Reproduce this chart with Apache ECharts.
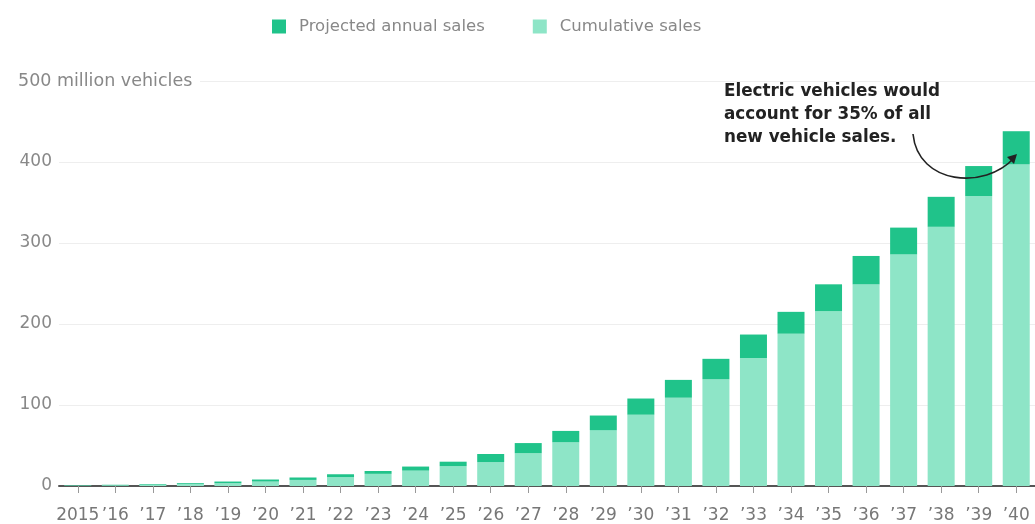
<!DOCTYPE html>
<html>
<head>
<meta charset="utf-8">
<script src="https://cdn.jsdelivr.net/npm/echarts@6/dist/echarts.min.js"></script>
<style>
html,body{margin:0;padding:0;background:#fff;}
#chart{width:1035px;height:524px;}
</style>
</head>
<body>
<div id="chart"></div>
<script>
// Categories (years)
const years = ['2015','\u201916','\u201917','\u201918','\u201919','\u201920','\u201921','\u201922','\u201923','\u201924','\u201925','\u201926','\u201927','\u201928','\u201929','\u201930','\u201931','\u201932','\u201933','\u201934','\u201935','\u201936','\u201937','\u201938','\u201939','\u201940'];
// Cumulative sales before the year (million vehicles)
const cumulative = [0.6, 1, 1.5, 2.5, 3.5, 5.5, 7.5, 11, 15, 19, 24.5, 29.5, 40.5, 54, 69, 88, 109, 132, 158, 188, 216, 249, 286, 320, 358, 397];
// Projected annual sales (million vehicles)
const annual = [0.4, 0.5, 0.8, 1, 2, 2.5, 3, 3.5, 3.5, 5, 5.5, 10, 12.5, 14, 18, 20, 22, 25, 29, 27, 33, 35, 33, 37, 37, 41];
// Y ticks
const yTicks = [0, 100, 200, 300, 400, 500];
const yUnitLabel = '500 million vehicles';
const seriesNames = ['Projected annual sales', 'Cumulative sales'];
const annotationLines = ['Electric vehicles would', 'account for 35% of all', 'new vehicle sales.'];

const DARK = '#20c38a';
const LIGHT = '#8ee5c7';
const FONT = 'DejaVu Sans';

const chart = echarts.init(document.getElementById('chart'), null, {renderer: 'canvas'});

chart.setOption({
  backgroundColor: '#ffffff',
  animation: false,
  textStyle: {fontFamily: FONT},
  legend: {
    left: 272,
    top: 18,
    padding: 0,
    itemWidth: 14,
    itemHeight: 14,
    itemGap: 48,
    icon: 'rect',
    data: [seriesNames[0], seriesNames[1]],
    textStyle: {color: '#888', fontSize: 16.5, fontFamily: FONT, padding: [0, 0, 0, 8]}
  },
  grid: {left: 59, right: -9, top: 81, bottom: 38, containLabel: false},
  xAxis: {
    type: 'category',
    data: years,
    axisLine: {lineStyle: {color: '#555', width: 2}},
    axisTick: {show: true, alignWithLabel: true, length: 7, lineStyle: {color: '#999', width: 1}},
    axisLabel: {color: '#777', fontSize: 17, fontFamily: FONT, margin: 21, interval: 0}
  },
  yAxis: {
    type: 'value',
    min: yTicks[0],
    max: yTicks[yTicks.length - 1],
    interval: yTicks[1] - yTicks[0],
    axisLine: {show: false},
    axisTick: {show: false},
    splitLine: {lineStyle: {color: '#eeeeee', width: 1}},
    axisLabel: {
      color: '#888', fontSize: 17, fontFamily: FONT, margin: 7,
      formatter: function (v) { return v === yTicks[yTicks.length - 1] ? '' : String(v); }
    }
  },
  series: [
    {
      name: seriesNames[1],
      type: 'bar',
      stack: 'total',
      barWidth: 27,
      itemStyle: {color: LIGHT},
      data: cumulative
    },
    {
      name: seriesNames[0],
      type: 'bar',
      stack: 'total',
      barWidth: 27,
      itemStyle: {color: DARK},
      data: annual
    }
  ]
});

// Annotation graphics
const topY = chart.convertToPixel({yAxisIndex: 0}, yTicks[yTicks.length - 1]);
chart.setOption({
  graphic: [
    {type: 'rect', left: 0, top: topY - 10, z: 50, shape: {width: 200, height: 20}, style: {fill: '#fff'}},
    {type: 'text', x: 18, y: topY, z: 51, style: {text: yUnitLabel, fill: '#888', font: '17.5px "DejaVu Sans"', verticalAlign: 'middle', align: 'left'}},
    {type: 'text', x: 724, y: 80, z: 51, style: {text: annotationLines.join('\n'), fill: '#222', font: 'bold 16.8px "DejaVu Sans"', lineHeight: 23, verticalAlign: 'top', align: 'left'}},
    {type: 'bezierCurve', z: 52, shape: {x1: 913, y1: 134, cpx1: 918, cpy1: 185, cpx2: 985, cpy2: 190, x2: 1014, y2: 158}, style: {stroke: '#222', lineWidth: 1.6, fill: null}},
    {type: 'polygon', z: 52, shape: {points: [[1017, 154], [1007, 157], [1014, 164]]}, style: {fill: '#222'}}
  ]
});
</script>
</body>
</html>
